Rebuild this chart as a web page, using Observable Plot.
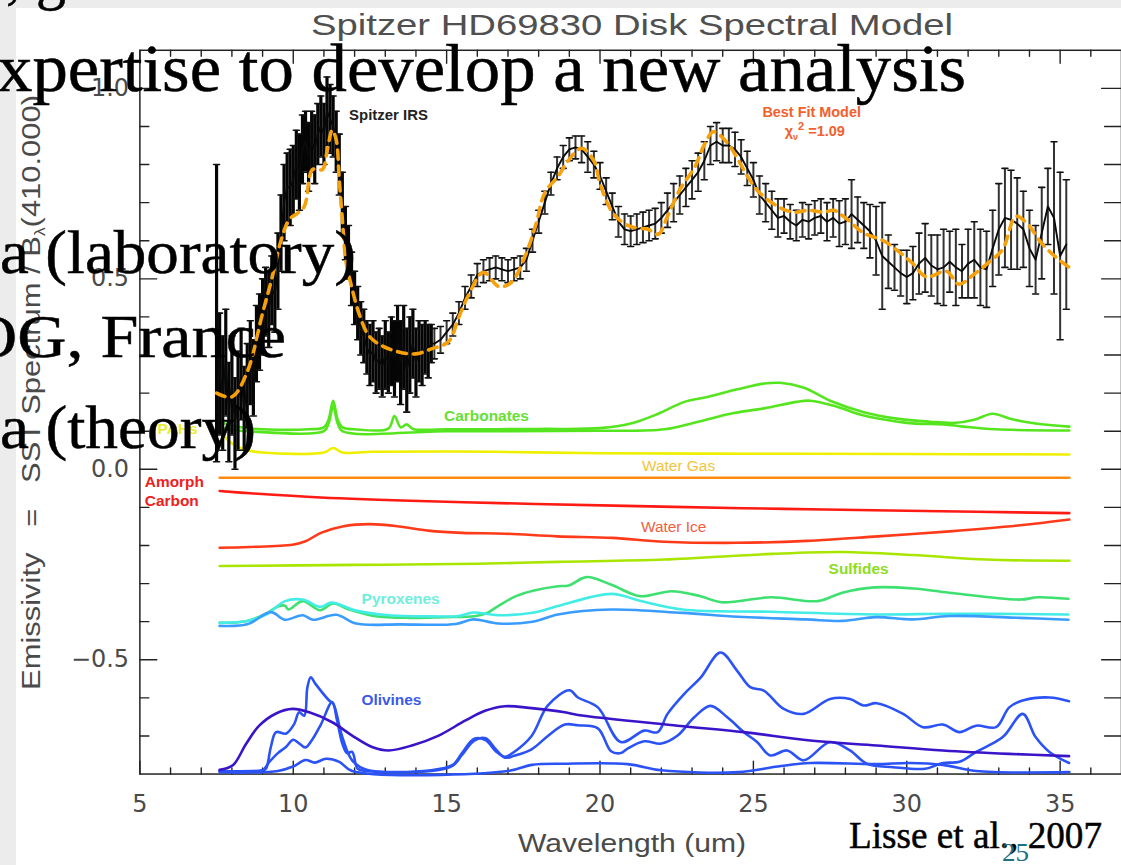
<!DOCTYPE html>
<html><head><meta charset="utf-8">
<script src="https://cdn.jsdelivr.net/npm/d3@7"></script>
<script src="https://cdn.jsdelivr.net/npm/@observablehq/plot@0.6"></script>
<style>
html,body{margin:0;padding:0;overflow:hidden;background:#ececec;}
#wrap{position:relative;width:1121px;height:865px;overflow:hidden;}
#paper{position:absolute;left:16px;top:8px;width:1105px;height:857px;background:#fff;}
#chart{position:absolute;left:0;top:0;}
#overlay{position:absolute;left:0;top:0;}
</style></head><body>
<div id="wrap"><div id="paper"></div><div id="chart"></div><svg id="overlay" width="1121" height="865"></svg></div>
<script>
// ---------- Spitzer IRS data ----------
const irsWave = [7.5,7.6,7.7,7.8,7.9,8.0,8.1,8.2,8.3,8.4,8.5,8.6,8.7,8.8,8.9,9.0,9.1,9.2,9.3,9.4,9.5,9.6,9.7,9.8,9.9,10.0,10.1,10.2,10.3,10.4,10.5,10.6,10.7,10.8,10.9,11.0,11.1,11.2,11.3,11.4,11.5,11.6,11.7,11.8,11.9,12.0,12.1,12.2,12.3,12.4,12.5,12.6,12.7,12.8,12.9,13.0,13.1,13.2,13.3,13.4,13.5,13.6,13.7,13.8,13.9,14.0,14.1,14.2,14.3,14.4,14.5,
14.6,14.8,15.0,15.2,15.4,15.6,15.8,16.0,16.2,16.4,16.6,16.8,17.0,17.2,17.4,17.6,17.8,18.0,18.2,18.4,18.6,18.8,19.0,19.2,19.4,19.6,19.8,20.0,20.2,20.4,20.6,20.8,21.0,21.2,21.4,21.6,21.8,22.0,22.2,22.4,22.6,22.8,23.0,23.2,23.4,23.6,23.8,24.0,24.2,24.4,24.6,24.8,25.0,25.2,25.4,25.6,25.8,26.0,26.2,26.4,26.6,26.8,27.0,27.2,27.4,27.6,27.8,28.0,28.2,28.4,28.6,28.8,29.0,29.2,29.4,29.6,29.8,30.0,30.2,30.4,30.6,30.8,31.0,31.2,31.4,31.6,31.8,32.0,32.2,32.4,32.6,32.8,33.0,33.2,33.4,33.6,33.8,34.0,34.2,34.4,34.6,34.8,35.0,35.2];
const irsFlux = [0.41,0.25,0.20,0.28,0.15,0.22,0.12,0.18,0.25,0.16,
0.22,0.28,0.24,0.33,0.36,0.40,0.44,0.42,0.47,0.46,
0.52,0.62,0.70,0.74,0.74,0.76,0.80,0.78,0.84,0.86,
0.82,0.86,0.84,0.88,0.90,0.88,0.94,0.92,0.90,0.86,
0.80,0.70,0.62,0.57,0.50,0.45,0.41,0.37,0.35,0.32,
0.30,0.31,0.28,0.29,0.27,0.30,0.28,0.31,0.29,0.33,
0.28,0.32,0.26,0.30,0.33,0.28,0.31,0.30,0.32,0.31,
0.33,
0.33,0.34,0.36,0.38,0.41,0.45,0.48,0.51,0.52,0.525,
0.53,0.525,0.52,0.525,0.53,0.55,0.60,0.65,0.70,0.75,
0.79,0.82,0.84,0.845,0.84,0.82,0.80,0.77,0.73,0.69,
0.65,0.63,0.625,0.63,0.635,0.64,0.645,0.66,0.68,0.70,
0.72,0.74,0.76,0.78,0.81,0.85,0.86,0.85,0.85,0.84,
0.82,0.79,0.76,0.72,0.70,0.68,0.66,0.665,0.65,0.64,
0.655,0.65,0.66,0.665,0.65,0.66,0.645,0.65,0.67,0.655,
0.64,0.625,0.60,0.56,0.545,0.53,0.515,0.505,0.515,0.54,
0.555,0.535,0.525,0.53,0.545,0.53,0.52,0.54,0.55,0.53,
0.525,0.58,0.63,0.66,0.655,0.645,0.63,0.58,0.55,0.62,
0.69,0.66,0.56,0.59];
const irsErr = [0.39,0.16,0.15,0.14,0.13,0.13,0.12,0.13,0.12,0.11,
0.11,0.11,0.10,0.10,0.10,0.10,0.09,0.10,0.09,0.10,
0.10,0.10,0.10,0.09,0.10,0.09,0.09,0.10,0.09,0.08,
0.09,0.08,0.09,0.08,0.08,0.08,0.09,0.09,0.08,0.08,
0.08,0.08,0.07,0.07,0.07,0.07,0.07,0.07,0.07,0.07,
0.08,0.08,0.08,0.08,0.08,0.09,0.08,0.09,0.10,0.10,
0.11,0.11,0.11,0.10,0.09,0.09,0.08,0.08,0.07,0.07,
0.05,
0.04,0.035,0.03,0.03,0.03,0.03,0.03,0.03,0.03,0.03,
0.03,0.03,0.03,0.03,0.03,0.03,0.03,0.03,0.03,0.03,
0.03,0.03,0.03,0.03,0.035,0.04,0.035,0.035,0.035,0.035,
0.04,0.04,0.04,0.04,0.04,0.04,0.04,0.04,0.045,0.05,
0.05,0.05,0.05,0.05,0.05,0.05,0.05,0.045,0.045,0.045,
0.045,0.045,0.045,0.05,0.05,0.05,0.05,0.045,0.045,0.04,
0.045,0.045,0.045,0.045,0.05,0.05,0.06,0.06,0.09,0.06,
0.06,0.07,0.09,0.14,0.07,0.06,0.06,0.07,0.07,0.08,
0.09,0.08,0.09,0.10,0.08,0.10,0.07,0.09,0.10,0.10,
0.10,0.10,0.12,0.13,0.13,0.12,0.10,0.10,0.09,0.12,
0.10,0.20,0.22,0.17];

// ---------- Best fit model ----------
const modelWave = [7.5,8.0,8.5,9.0,9.3,9.6,9.87,10.1,10.36,10.63,10.95,11.1,11.27,11.4,11.5,11.6,11.72,11.9,12.14,12.47,12.9,13.44,13.99,14.5,15.06,15.4,15.7,16.2,16.7,17.1,17.56,17.9,18.2,18.64,18.96,19.4,19.8,20.0,20.36,20.7,21.1,21.56,21.9,22.2,22.6,23.1,23.4,23.7,24.15,24.5,24.8,25.2,25.8,26.3,26.8,27.3,27.62,28.0,28.6,29.24,29.76,30.2,30.64,31.29,31.7,32.16,32.7,33.13,33.56,33.98,34.37,34.86,35.3];
const modelFlux = [0.20,0.19,0.256,0.41,0.50,0.60,0.656,0.67,0.69,0.787,0.787,0.834,0.89,0.865,0.76,0.656,0.544,0.48,0.41,0.35,0.324,0.308,0.303,0.316,0.335,0.40,0.455,0.517,0.48,0.49,0.56,0.64,0.726,0.77,0.81,0.843,0.81,0.75,0.68,0.65,0.635,0.63,0.617,0.664,0.734,0.795,0.852,0.886,0.857,0.813,0.77,0.726,0.69,0.675,0.68,0.675,0.68,0.66,0.62,0.60,0.57,0.54,0.505,0.52,0.486,0.51,0.545,0.578,0.664,0.64,0.596,0.557,0.53];

// ---------- Component emissivities [wavelength, offset value] ----------
const carbonatesA = [[7.6,0.125],[8.0,0.115],[8.5,0.108],[9.0,0.105],[10.5,0.105],[11.0,0.11],[11.15,0.13],[11.3,0.18],[11.45,0.13],[11.6,0.11],[12.0,0.105],[13.1,0.107],[13.3,0.14],[13.5,0.11],[13.7,0.118],[13.9,0.106],[15,0.105],[18,0.106],[20,0.108],[21.0,0.12],[21.9,0.146],[22.75,0.177],[23.5,0.19],[24.47,0.21],[25.35,0.225],[25.87,0.227],[26.65,0.214],[27.5,0.18],[28.6,0.15],[29.67,0.133],[30.74,0.125],[31.6,0.122],[32.2,0.13],[32.8,0.146],[33.4,0.132],[34.2,0.12],[35.3,0.112]];
const carbonatesB = [[7.6,0.11],[8.0,0.104],[8.5,0.1],[11.0,0.1],[11.15,0.12],[11.3,0.165],[11.45,0.12],[11.6,0.1],[15,0.1],[20,0.101],[22.1,0.105],[23.2,0.125],[24.25,0.146],[25.35,0.16],[26.4,0.177],[26.85,0.18],[27.7,0.165],[28.6,0.141],[29.7,0.125],[30.3,0.12],[31.2,0.118],[31.85,0.112],[32.9,0.105],[35.3,0.102]];
const pahs = [[7.6,0.10],[8.0,0.068],[8.5,0.05],[9.0,0.044],[11.0,0.044],[11.3,0.056],[11.6,0.044],[12.6,0.046],[16.5,0.046],[20,0.042],[25,0.041],[30,0.04],[35.3,0.039]];
const waterGas = [[7.6,-0.022],[35.3,-0.022]];
const amorphCarbon = [[7.6,-0.057],[8.6,-0.063],[10.9,-0.074],[14.4,-0.084],[17.9,-0.091],[22,-0.098],[26,-0.104],[30,-0.109],[35.3,-0.115]];
const waterIce = [[7.6,-0.206],[8.57,-0.204],[9.97,-0.198],[10.4,-0.189],[10.9,-0.167],[11.6,-0.150],[12.5,-0.144],[13.44,-0.150],[14.4,-0.161],[15.5,-0.167],[16.9,-0.169],[18.6,-0.176],[20.4,-0.18],[22.1,-0.19],[24.45,-0.193],[26.75,-0.188],[29.06,-0.176],[31.4,-0.163],[33.7,-0.147],[35.3,-0.132]];
const sulfides = [[7.6,-0.254],[12,-0.251],[16,-0.248],[18.6,-0.243],[22.1,-0.237],[25.6,-0.222],[27.9,-0.217],[30.2,-0.225],[32.6,-0.237],[35.3,-0.240]];
const pyroxeneGreen = [[7.6,-0.403],[8.5,-0.398],[9.15,-0.377],[9.5,-0.36],[9.73,-0.358],[9.84,-0.368],[10.31,-0.346],[10.88,-0.37],[11.3,-0.352],[11.82,-0.368],[12.63,-0.385],[13.79,-0.39],[14.94,-0.388],[15.9,-0.386],[16.3,-0.378],[16.68,-0.359],[17.26,-0.333],[17.85,-0.318],[18.63,-0.307],[18.98,-0.305],[19.56,-0.283],[20.37,-0.303],[21.3,-0.333],[22.33,-0.32],[23.27,-0.333],[23.96,-0.349],[25.58,-0.336],[27.1,-0.346],[27.9,-0.324],[28.95,-0.31],[30.22,-0.313],[31.38,-0.324],[33.7,-0.342],[34.27,-0.336],[35.27,-0.34]];
const pyroxeneCyan = [[7.6,-0.403],[8.5,-0.398],[9.15,-0.38],[9.73,-0.346],[10.31,-0.342],[10.88,-0.361],[11.25,-0.35],[12.05,-0.371],[13.2,-0.384],[14.5,-0.386],[15.4,-0.385],[15.87,-0.376],[16.68,-0.383],[17.85,-0.376],[18.63,-0.359],[20.37,-0.327],[21.3,-0.345],[22.69,-0.368],[25.58,-0.374],[29,-0.381],[31.4,-0.379],[35.27,-0.381]];
const pyroxeneBlue = [[7.6,-0.411],[8.5,-0.407],[9.27,-0.375],[9.73,-0.395],[10.31,-0.383],[10.64,-0.395],[11.4,-0.382],[12.05,-0.405],[13.5,-0.407],[15.3,-0.406],[15.87,-0.394],[16.68,-0.405],[17.8,-0.4],[18.63,-0.381],[20.37,-0.368],[22.69,-0.377],[24.5,-0.387],[26.7,-0.394],[27.9,-0.398],[29,-0.388],[30.2,-0.394],[31.4,-0.385],[33.7,-0.39],[35.27,-0.395]];
const olivineA = [[7.6,-0.789],[8.03,-0.777],[8.46,-0.721],[8.89,-0.673],[9.44,-0.641],[9.98,-0.629],[10.52,-0.638],[11.27,-0.664],[11.92,-0.699],[12.57,-0.729],[13.11,-0.738],[13.87,-0.725],[14.74,-0.699],[15.6,-0.66],[16.25,-0.634],[16.9,-0.622],[17.77,-0.627],[18.85,-0.638],[19.28,-0.645],[22.53,-0.673],[24.69,-0.69],[26.85,-0.712],[29.02,-0.725],[31.18,-0.738],[33.34,-0.747],[35.29,-0.753]];
const olivineB = [[7.6,-0.792],[9.0,-0.79],[9.11,-0.786],[9.27,-0.729],[9.44,-0.69],[9.76,-0.694],[10.03,-0.669],[10.19,-0.638],[10.36,-0.647],[10.46,-0.573],[10.57,-0.546],[10.73,-0.564],[11.17,-0.607],[11.3,-0.615],[11.6,-0.703],[11.92,-0.764],[12.36,-0.788],[14.5,-0.79],[15.2,-0.776],[15.5,-0.745],[15.9,-0.707],[16.27,-0.711],[16.6,-0.74],[16.9,-0.755],[17.2,-0.742],[17.77,-0.70],[18.3,-0.62],[19.0,-0.58],[19.28,-0.599],[19.93,-0.625],[20.68,-0.716],[21.44,-0.686],[21.88,-0.69],[22.2,-0.642],[22.74,-0.59],[23.28,-0.547],[23.93,-0.481],[24.47,-0.529],[24.9,-0.572],[25.34,-0.581],[25.99,-0.629],[26.64,-0.642],[27.5,-0.603],[28.15,-0.603],[28.59,-0.62],[29.02,-0.614],[29.88,-0.642],[30.53,-0.677],[31.18,-0.67],[31.72,-0.69],[32.26,-0.673],[32.91,-0.677],[33.34,-0.625],[33.78,-0.607],[34.65,-0.599],[35.29,-0.609]];
const olivineC = [[7.6,-0.792],[9.0,-0.79],[9.2,-0.77],[9.5,-0.745],[9.76,-0.729],[10.0,-0.71],[10.2,-0.72],[10.4,-0.73],[10.6,-0.712],[10.9,-0.67],[11.27,-0.611],[11.43,-0.66],[11.6,-0.72],[11.75,-0.745],[11.92,-0.742],[12.1,-0.786],[12.4,-0.792],[14.5,-0.792],[15.2,-0.778],[15.5,-0.75],[15.9,-0.712],[16.27,-0.706],[16.6,-0.735],[16.9,-0.757],[17.2,-0.752],[17.77,-0.735],[18.3,-0.70],[18.85,-0.67],[19.28,-0.672],[19.93,-0.68],[20.36,-0.74],[20.68,-0.745],[20.9,-0.733],[21.44,-0.714],[22.0,-0.72],[22.53,-0.699],[23.07,-0.651],[23.6,-0.621],[24.15,-0.651],[24.69,-0.69],[25.12,-0.716],[25.55,-0.751],[26.1,-0.738],[26.64,-0.764],[27.5,-0.716],[28.15,-0.738],[28.7,-0.773],[29.56,-0.782],[30.6,-0.786],[31.18,-0.771],[31.72,-0.768],[32.26,-0.742],[33.13,-0.703],[33.78,-0.642],[34.2,-0.703],[34.65,-0.742],[35.29,-0.771]];
const olivineD = [[7.6,-0.795],[9.5,-0.792],[10.0,-0.78],[10.4,-0.763],[10.7,-0.77],[11.07,-0.76],[11.5,-0.768],[11.92,-0.792],[17.0,-0.792],[17.77,-0.776],[18.85,-0.773],[20.9,-0.774],[22.0,-0.79],[24.5,-0.795],[25.8,-0.78],[26.85,-0.771],[29.0,-0.774],[30.1,-0.771],[31.18,-0.776],[32.26,-0.792],[35.3,-0.795]];

// ---------- ticks ----------
const xMajor = [5,10,15,20,25,30,35];
const xMinor = [6,7,8,9,11,12,13,14,16,17,18,19,21,22,23,24,26,27,28,29,31,32,33,34,36];
const yMajor = [-0.5,0.0,0.5,1.0];
const yMinor = [-0.7,-0.6,-0.4,-0.3,-0.2,-0.1,0.1,0.2,0.3,0.4,0.6,0.7,0.8,0.9];

const irs = irsWave.map((w,i)=>({w, f: irsFlux[i], e: irsErr[i]}));
const model = modelWave.map((w,i)=>({w, f: modelFlux[i]}));

const tickShape = {draw(ctx, l){ ctx.moveTo(0,0); ctx.lineTo(0,-l); }};
const tk = (data, xf, yf, rot, len) => Plot.vector(data, {x: xf, y: yf, rotate: rot, length: len, anchor: "start", shape: tickShape, stroke: "#222", strokeWidth: 1.4});

const comps = [
  [carbonatesA, "#55e51e"], [carbonatesB, "#55e51e"],
  [pahs, "#eef000"], [waterGas, "#ff8a10"], [amorphCarbon, "#ff1a14"],
  [waterIce, "#ff3a1a"], [sulfides, "#a8e600"],
  [pyroxeneGreen, "#3ee070"], [pyroxeneCyan, "#44ece6"], [pyroxeneBlue, "#3a9cff"],
  [olivineD, "#2b52f4"], [olivineC, "#2b52f4"], [olivineB, "#2b52f4"], [olivineA, "#3a14c8"]
];

const lab = (t, x, y, color, opts={}) => Plot.text([t], {x: ()=>x, y: ()=>y, text: d=>d, fill: color, fontSize: 15.5, fontWeight: "bold", fontFamily: "Liberation Sans", textAnchor: "middle", ...opts});

const chart = Plot.plot({
  width: 1126, height: 865,
  marginLeft: 140, marginRight: 0, marginTop: 50, marginBottom: 88,
  x: {domain: [5, 37]},
  y: {domain: [-0.8, 1.1]},
  style: {background: "transparent", fontFamily: "DejaVu Sans"},
  marks: [
    Plot.axisX({ticks: xMajor, tickSize: 0, tickPadding: 21, fontSize: 24, color: "#4a4a4a", label: null, tickFormat: d => String(d)}),
    Plot.axisY({ticks: yMajor, tickSize: 0, tickPadding: 11, fontSize: 24, color: "#4a4a4a", label: null, tickFormat: d3.format(".1f")}),
    Plot.frame({stroke: "#222", strokeWidth: 1.5}),
    tk(xMajor, d=>d, ()=>-0.8, 0, 13), tk(xMinor, d=>d, ()=>-0.8, 0, 6),
    tk(xMajor, d=>d, ()=>1.1, 180, 13), tk(xMinor, d=>d, ()=>1.1, 180, 6),
    tk(yMajor, ()=>5, d=>d, 90, 17), tk(yMinor, ()=>5, d=>d, 90, 9),
    tk(yMajor, ()=>37, d=>d, 270, 20), tk(yMinor, ()=>37, d=>d, 270, 17),
    ...comps.map(([data, color]) => Plot.line(data, {x: d=>d[0], y: d=>d[1], stroke: color, strokeWidth: 2.6, curve: "catmull-rom"})),
    Plot.ruleX(irs, {x: "w", y1: d=>d.f-d.e, y2: d=>d.f+d.e, stroke: d => d.w < 14.55 ? "#050505" : "#333", strokeWidth: d => d.w < 14.55 ? 3.2 : 2.0}),
    Plot.vector(irs, {x: "w", y: d=>d.f+d.e, rotate: 90, length: 6, anchor: "middle", shape: tickShape, stroke: "#111", strokeWidth: 1.6}),
    Plot.vector(irs, {x: "w", y: d=>d.f-d.e, rotate: 90, length: 6, anchor: "middle", shape: tickShape, stroke: "#111", strokeWidth: 1.6}),
    Plot.line(irs, {x: "w", y: "f", stroke: "#0a0a0a", strokeWidth: 1.9}),
    Plot.line(model, {x: "w", y: "f", stroke: "#f7a10a", strokeWidth: 3.6, strokeDasharray: "9,7", curve: "catmull-rom"}),
    lab("Spitzer IRS", 11.82, 0.93, "#222", {textAnchor: "start", fontSize: 15}),
    lab("Best Fit Model", 26.9, 0.938, "#f2602e", {fontSize: 14.5}),
    lab("Carbonates", 16.3, 0.141, "#66e034"),
    lab("PAHs", 6.23, 0.105, "#e8ec30"),
    lab("Water Gas", 22.56, 0.008, "#f3c43c", {fontWeight: "normal"}),
    lab("Amorph", 5.16, -0.034, "#ee2020", {textAnchor: "start"}),
    lab("Carbon", 5.16, -0.084, "#ee2020", {textAnchor: "start"}),
    lab("Water Ice", 22.4, -0.152, "#f06040", {fontWeight: "normal"}),
    lab("Sulfides", 28.43, -0.262, "#8ddc24"),
    lab("Pyroxenes", 13.5, -0.34, "#6eeedd"),
    lab("Olivines", 13.2, -0.606, "#3a5ae8")
  ]
});
document.getElementById("chart").appendChild(chart);

const sx = chart.scale("x"), sy = chart.scale("y");
const ov = d3.select("#overlay");
// chi-square label
const chi = ov.append("text").attr("x", sx.apply(26.9)).attr("y", sy.apply(0.875))
  .attr("text-anchor", "middle").attr("font-family", "Liberation Sans").attr("font-weight", "bold")
  .attr("font-size", 14.5).attr("fill", "#f2602e");
chi.append("tspan").text("χ");
chi.append("tspan").attr("font-size", 9).attr("dy", 4).text("ν");
chi.append("tspan").attr("font-size", 11).attr("dy", -10).text("2");
chi.append("tspan").attr("dy", 6).text(" =1.09");

// title and axis titles
ov.append("text").attr("x", 311).attr("y", 35).attr("font-family", "Liberation Sans").attr("font-size", 29)
  .attr("fill", "#505050").attr("textLength", 642).attr("lengthAdjust", "spacingAndGlyphs")
  .text("Spitzer HD69830 Disk Spectral Model");
ov.append("text").attr("x", 518).attr("y", 852).attr("font-family", "Liberation Sans").attr("font-size", 25)
  .attr("fill", "#4a4a4a").attr("textLength", 228).attr("lengthAdjust", "spacingAndGlyphs")
  .text("Wavelength (um)");
const yl = ov.append("text").attr("transform", "translate(40,690) rotate(-90)").attr("font-family", "Liberation Sans")
  .attr("font-size", 25).attr("fill", "#4a4a4a").attr("textLength", 595).attr("lengthAdjust", "spacingAndGlyphs");
yl.append("tspan").text("Emissivity\u00a0\u00a0\u00a0=\u00a0\u00a0\u00a0SST Spectrum / B");
yl.append("tspan").attr("font-size", 14).attr("dy", 5).text("λ");
yl.append("tspan").attr("dy", -5).text("(410.000)");

// slide text laid over the chart
const serif = (t, x, y, size, len) => ov.append("text").attr("x", x).attr("y", y)
  .attr("font-family", "Liberation Serif").attr("font-size", size).attr("fill", "#000")
  .attr("stroke", "#000").attr("stroke-width", 0.5)
  .attr("textLength", len).attr("lengthAdjust", "spacingAndGlyphs").text(t);
serif(", g", 6, -3, 64, 60);
serif("xpertise to develop a new analysis", -3, 91, 67, 969);
serif("a (laboratory)", 0, 273, 62, 356);
serif("OG, France", -32, 357, 62, 318);
serif("a (theory)", 0, 448, 62, 256);
serif("Lisse et al., 2007", 849, 848, 38, 253);
ov.append("text").attr("x", 1002).attr("y", 861).attr("font-family", "Liberation Serif").attr("font-size", 25)
  .attr("fill", "#1d6f82").attr("textLength", 27).attr("lengthAdjust", "spacingAndGlyphs").text("25");
</script>
</body></html>
